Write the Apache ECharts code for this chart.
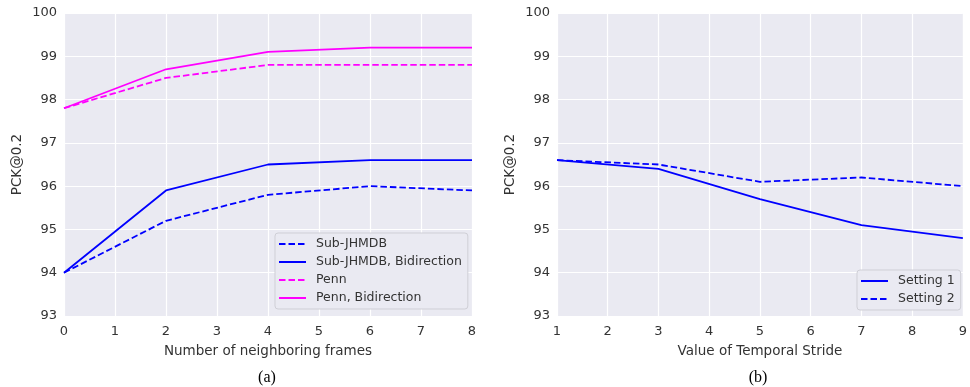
<!DOCTYPE html>
<html><head><meta charset="utf-8">
<script src="https://cdn.jsdelivr.net/npm/echarts@6/dist/echarts.min.js"></script>
<style>html,body{margin:0;padding:0;background:#fff}#c{width:970px;height:387px}</style>
</head><body><div id="c"></div>
<script>
const framesX = [0, 2, 4, 6, 8];
const subJhmdb = [94.0, 95.2, 95.8, 96.0, 95.9];
const subJhmdbBi = [94.0, 95.9, 96.5, 96.6, 96.6];
const penn = [97.8, 98.5, 98.8, 98.8, 98.8];
const pennBi = [97.8, 98.7, 99.1, 99.2, 99.2];
const strideX = [1, 3, 5, 7, 9];
const setting1 = [96.6, 96.4, 95.7, 95.1, 94.8];
const setting2 = [96.6, 96.5, 96.1, 96.2, 96.0];

const pairs = (xs, ys) => xs.map((x, i) => [x, ys[i]]);
const font = 'DejaVu Sans';
const dash = [6.5, 3];
const BLUE = '#0000ff', MAG = '#ff00ff';

function xAx(idx, min, max, name) {
  return {
    type: 'value', gridIndex: idx, min: min, max: max, interval: 1,
    name: name, nameLocation: 'middle', nameGap: 28,
    nameTextStyle: {fontFamily: font, fontSize: 13.5, color: '#333'},
    axisLine: {show: false}, axisTick: {show: false},
    axisLabel: {fontFamily: font, fontSize: 13, color: '#333', margin: 9},
    splitLine: {lineStyle: {color: '#ffffff', width: 1.2}}
  };
}
function yAx(idx) {
  return {
    type: 'value', gridIndex: idx, min: 93, max: 100, interval: 1,
    name: 'PCK@0.2', nameLocation: 'middle', nameGap: 40,
    nameTextStyle: {fontFamily: font, fontSize: 13.5, color: '#333'},
    axisLine: {show: false}, axisTick: {show: false},
    axisLabel: {fontFamily: font, fontSize: 13, color: '#333', margin: 7},
    splitLine: {lineStyle: {color: '#ffffff', width: 1.2}}
  };
}
function ser(name, xi, data, color, type) {
  return {
    name: name, type: 'line', xAxisIndex: xi, yAxisIndex: xi,
    data: data, showSymbol: false, symbol: 'none', animation: false,
    lineStyle: {color: color, width: 1.8, type: type},
    itemStyle: {color: color}
  };
}
const legendCommon = {
  orient: 'vertical', itemWidth: 27, itemHeight: 10, itemGap: 4,
  backgroundColor: '#eaeaf2', borderColor: '#cfcfd6', borderWidth: 1, borderRadius: 3,
  padding: [4, 6, 4, 3],
  itemStyle: {opacity: 0},
  textStyle: {fontFamily: font, fontSize: 12.5, color: '#333', lineHeight: 14, padding: [0, 0, 0, 5]}
};
const chart = echarts.init(document.getElementById('c'));
chart.setOption({
  animation: false,
  backgroundColor: '#ffffff',
  title: [
    {text: '(a)', left: 262, top: 365, textAlign: 'center',
     textStyle: {fontFamily: 'Liberation Serif', fontSize: 16, fontWeight: 'normal', color: '#000'}},
    {text: '(b)', left: 753, top: 365, textAlign: 'center',
     textStyle: {fontFamily: 'Liberation Serif', fontSize: 16, fontWeight: 'normal', color: '#000'}}
  ],
  grid: [
    {left: 64, top: 13, width: 408, height: 303, show: true, backgroundColor: '#eaeaf2', borderWidth: 0},
    {left: 557, top: 13, width: 408, height: 303, show: true, backgroundColor: '#eaeaf2', borderWidth: 0}
  ],
  xAxis: [xAx(0, 0, 8, 'Number of neighboring frames'), xAx(1, 1, 9, 'Value of Temporal Stride')],
  yAxis: [yAx(0), yAx(1)],
  legend: [
    Object.assign({}, legendCommon, {left: 275, top: 233,
      data: ['Sub-JHMDB', 'Sub-JHMDB, Bidirection', 'Penn', 'Penn, Bidirection']}),
    Object.assign({}, legendCommon, {left: 857, top: 270,
      data: ['Setting 1', 'Setting 2']})
  ],
  series: [
    ser('Sub-JHMDB', 0, pairs(framesX, subJhmdb), BLUE, dash),
    ser('Sub-JHMDB, Bidirection', 0, pairs(framesX, subJhmdbBi), BLUE, 'solid'),
    ser('Penn', 0, pairs(framesX, penn), MAG, dash),
    ser('Penn, Bidirection', 0, pairs(framesX, pennBi), MAG, 'solid'),
    ser('Setting 1', 1, pairs(strideX, setting1), BLUE, 'solid'),
    ser('Setting 2', 1, pairs(strideX, setting2), BLUE, dash)
  ]
});
</script></body></html>
